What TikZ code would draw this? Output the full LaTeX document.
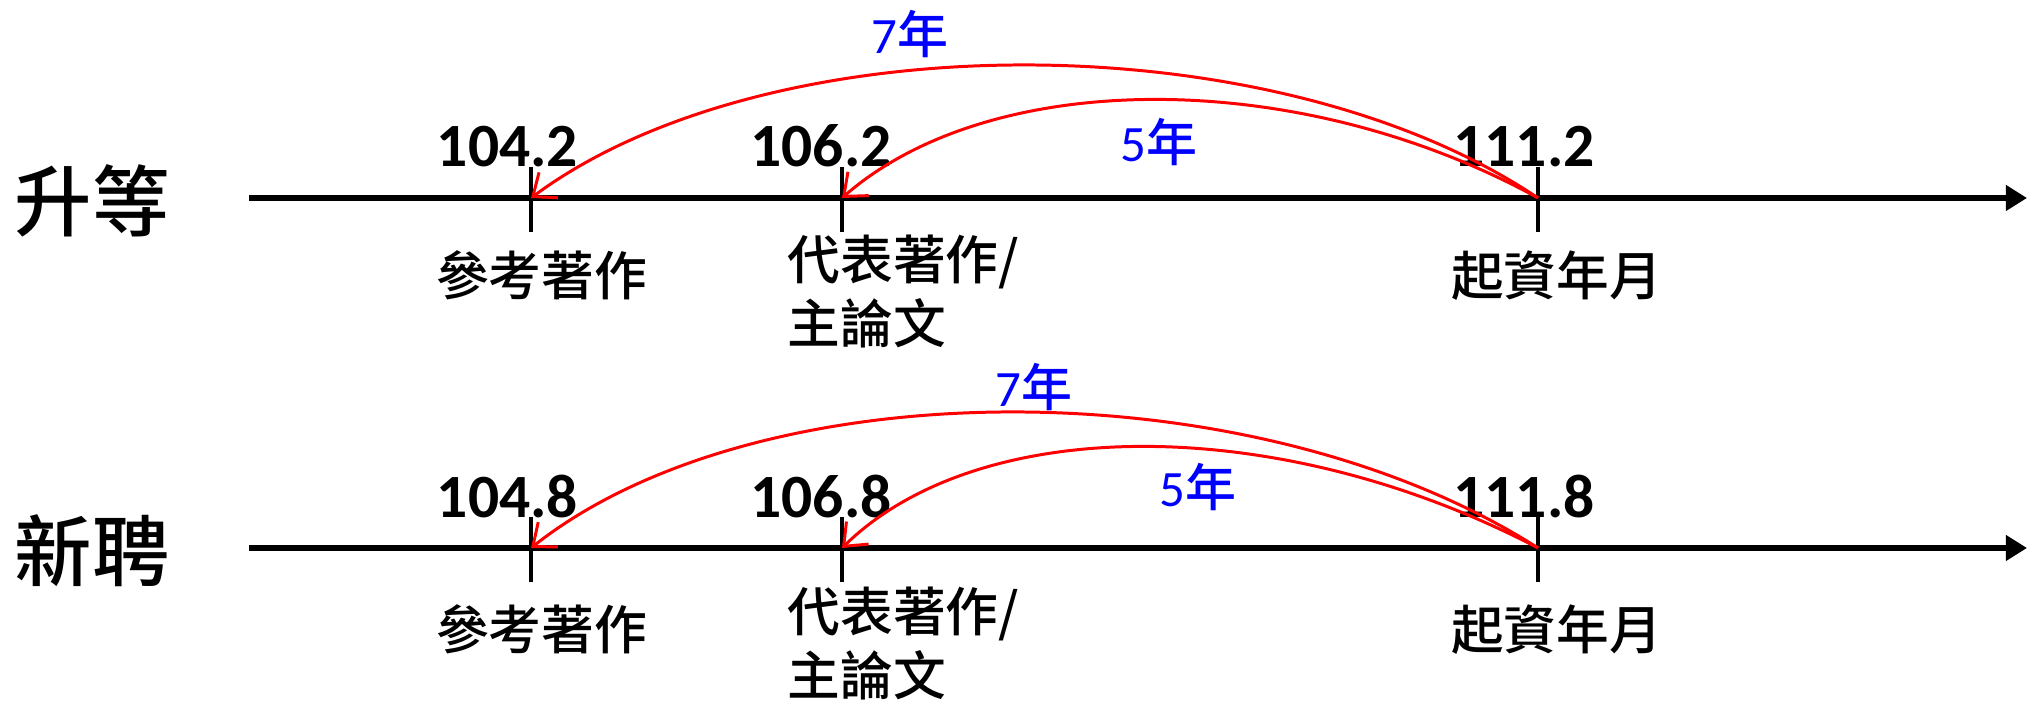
\documentclass[tikz,border=0pt]{standalone}
\usepackage{fontspec}
\setmainfont{Carlito}
\newfontfamily\cjk{Noto Sans CJK TC Medium}
\usetikzlibrary{arrows.meta,positioning}

\begin{document}
\begin{tikzpicture}[
  axis/.style={line width=1.8pt, -{Triangle[length=6pt,width=7pt]}},
  tickmark/.style={line width=1.1pt},
  span/.style={red, line width=0.85pt, -{Straight Barb[length=5.5pt,width=9pt]}},
  num/.style={font=\fontsize{17.5}{20}\selectfont\bfseries, inner sep=0pt, anchor=base},
  lbl/.style={font=\cjk\fontsize{15}{18.4}\selectfont, inner sep=0pt},
  rowname/.style={font=\cjk\fontsize{22}{26}\selectfont, inner sep=0pt},
  yr/.style={blue, font=\fontsize{14.5}{17}\selectfont, inner sep=0pt},
]
\useasboundingbox (0,0) rectangle (20.27,7.08);

% 升等
\node[rowname] (up) at (0.92,5.07) {升等};
\coordinate (up-s) at (2.49,5.10);
\coordinate (up-e) at (20.27,5.10);
\coordinate (up-ref) at (5.31,5.10);
\coordinate (up-rep) at (8.42,5.10);
\coordinate (up-pay) at (15.38,5.10);
\draw[axis] (up-s) -- (up-e);
\draw[tickmark] ([yshift=3.1mm]up-ref) -- ([yshift=-3.4mm]up-ref);
\draw[tickmark] ([yshift=3.1mm]up-rep) -- ([yshift=-3.4mm]up-rep);
\draw[tickmark] ([yshift=3.1mm]up-pay) -- ([yshift=-3.4mm]up-pay);

\node[num] (up-ref-n) at (5.075,5.41) {104.2};
\node[num] (up-rep-n) at (8.21,5.41) {106.2};
\node[num] (up-pay-n) at (15.24,5.41) {111.2};

\node[lbl, anchor=base] (up-ref-l) at (5.415,4.12) {參考著作};
\node[lbl, align=left, anchor=north west] (up-rep-l) at (7.87,4.74) {代表著作/\\主論文};
\node[lbl, anchor=base] (up-pay-l) at (15.565,4.12) {起資年月};

\draw[span] (up-pay) .. controls (12.75,6.87) and (7.70,6.87) .. (up-ref);
\draw[span] (up-pay) .. controls (13.00,6.41) and (9.92,6.41) .. (up-rep);
\node[yr] (up-7) at (9.10,6.74) {7{\cjk 年}};
\node[yr] (up-5) at (11.59,5.66) {5{\cjk 年}};

% 新聘
\node[rowname] (new) at (0.92,1.57) {新聘};
\coordinate (new-s) at (2.49,1.60);
\coordinate (new-e) at (20.27,1.60);
\coordinate (new-ref) at (5.31,1.60);
\coordinate (new-rep) at (8.42,1.60);
\coordinate (new-pay) at (15.38,1.60);
\draw[axis] (new-s) -- (new-e);
\draw[tickmark] ([yshift=3.1mm]new-ref) -- ([yshift=-3.4mm]new-ref);
\draw[tickmark] ([yshift=3.1mm]new-rep) -- ([yshift=-3.4mm]new-rep);
\draw[tickmark] ([yshift=3.1mm]new-pay) -- ([yshift=-3.4mm]new-pay);

\node[num] (new-ref-n) at (5.075,1.90) {104.8};
\node[num] (new-rep-n) at (8.21,1.90) {106.8};
\node[num] (new-pay-n) at (15.24,1.90) {111.8};

\node[lbl, anchor=base] (new-ref-l) at (5.415,0.58) {參考著作};
\node[lbl, align=left, anchor=north west] (new-rep-l) at (7.87,1.22) {代表著作/\\主論文};
\node[lbl, anchor=base] (new-pay-l) at (15.565,0.58) {起資年月};

\draw[span] (new-pay) .. controls (12.55,3.41) and (7.60,3.41) .. (new-ref);
\draw[span] (new-pay) .. controls (12.80,2.95) and (9.80,2.95) .. (new-rep);
\node[yr] (new-7) at (10.34,3.21) {7{\cjk 年}};
\node[yr] (new-5) at (11.98,2.21) {5{\cjk 年}};

\end{tikzpicture}
\end{document}
